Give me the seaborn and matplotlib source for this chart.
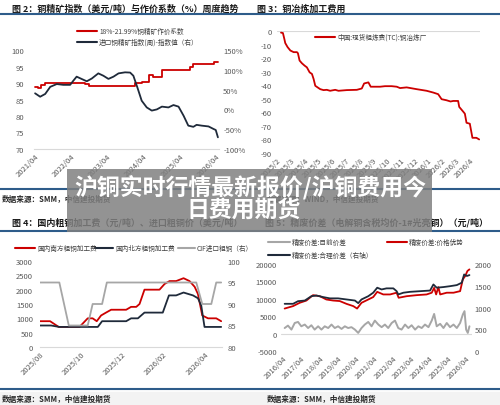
import matplotlib
matplotlib.use("Agg")
import matplotlib.pyplot as plt
import seaborn as sns
from matplotlib.lines import Line2D
from matplotlib.patches import Rectangle

sns.set_style("white")
plt.rcParams['font.family'] = ['Noto Sans CJK SC', 'DejaVu Sans']
plt.rcParams['axes.unicode_minus'] = False

RED = '#cc0000'
NAVY = '#1f2a3a'
GREY = '#a6a6a6'
BLUE = '#2e5c8a'
TXT = '#595959'
AXIS = '#d9d9d9'

# ---- 图2: 作价系数 (左) / 进口铜精矿指数 (右), x = 年份
coef_year = [2021.25, 2021.34, 2021.41, 2021.53, 2022.63, 2022.73, 2024.02, 2024.20,
             2024.39, 2024.52, 2024.76, 2025.54, 2025.63, 2026.19, 2026.32]
coef_val = [88.7, 88.4, 89.5, 90.0, 89.6, 89.0, 89.9, 90.4,
            92.4, 91.9, 94.0, 94.9, 95.9, 96.5, 96.5]
ore_year = [2021.25, 2021.39, 2021.53, 2021.67, 2021.85, 2022.03, 2022.22, 2022.31,
            2022.40, 2022.54, 2022.68, 2022.82, 2023.00, 2023.14, 2023.28, 2023.42,
            2023.56, 2023.74, 2023.88, 2023.97, 2024.08, 2024.20, 2024.34, 2024.48,
            2024.62, 2024.76, 2024.94, 2025.08, 2025.22, 2025.36, 2025.49, 2025.63,
            2025.72, 2025.86, 2026.05, 2026.19, 2026.25, 2026.31]
ore_idx = [40.6, 32, 39, 57, 64, 62, 62, 72.6,
           82.7, 76.8, 71, 78, 91, 85, 77, 82.7,
           91, 93.6, 93, 85, 55.7, 22, 5, -3,
           0, 7, 5, 11, 7, -16, -41, -44,
           -39, -41, -43, -49.5, -52, -70.5]
year_labels = ['2021/04', '2022/04', '2023/04', '2024/04', '2025/04', '2026/04']

# ---- 图3: 现货粗炼费TC, x = 自2025/2起的月数
tc_month = [0.29, 0.43, 0.53, 0.60, 0.77, 0.97, 1.21, 1.45, 1.52, 1.64, 1.81, 2.00,
            2.17, 2.37, 2.54, 2.66, 2.78, 2.95, 3.14, 3.38, 3.62, 3.86, 4.23, 4.47,
            5.07, 5.80, 6.16, 6.33, 6.64, 6.81, 7.49, 7.85, 8.33, 8.70, 8.94, 9.42,
            10.14, 10.87, 11.35, 11.71, 11.96, 12.32, 12.61, 12.80, 13.16, 13.24,
            13.53, 13.65, 13.77, 14.01, 14.20, 14.49, 14.69]
tc_val = [-1.2, -1.5, -5.7, -8.9, -11.9, -14.4, -15.6, -15.6, -16.4, -21.8, -23.8, -25.5,
          -26.8, -30.5, -31.7, -35.4, -40.4, -41.6, -42.9, -43.6, -43.4, -44.1, -43.4, -44.1,
          -43.6, -43.4, -42.4, -38.7, -37.9, -41.1, -41.1, -40.7, -40.7, -41.1, -42.1, -41.6,
          -42.9, -44.1, -45.4, -46.6, -50.3, -51.1, -52.0, -51.6, -51.6, -56.0,
          -59.5, -61.0, -67.7, -68.4, -78.8, -78.8, -80.0]
tc_labels = ['2025/2', '2025/3', '2025/4', '2025/5', '2025/6', '2025/7', '2025/8',
             '2025/9', '2025/10', '2025/11', '2025/12', '2026/1', '2026/2', '2026/3',
             '2026/4']

# ---- 图4: 粗铜加工费 (左) / CIF进口粗铜 (右), x = 自2025/08起的月数
south_month = [0, 0.49, 0.70, 0.91, 1.92, 2.32, 2.56, 2.76, 2.97, 3.21, 3.46, 4.19,
               4.43, 4.68, 4.84, 5.08, 5.81, 6.06, 6.30, 6.62, 6.98, 7.27, 7.52,
               7.68, 7.89, 8.17, 8.57, 8.81]
south_fee = [900, 900, 800, 700, 700, 1000, 1000, 900, 1100, 1200, 1300, 1300,
             1400, 1400, 1500, 2000, 2000, 2200, 2300, 2300, 2400, 2300, 2100,
             1850, 1100, 1000, 1000, 900]
north_month = [0, 0.54, 0.94, 2.81, 3.02, 4.19, 4.43, 4.76, 5.08, 5.97, 6.27, 6.62,
               6.98, 7.44, 7.68, 7.84, 8.00, 8.81]
north_fee = [750, 750, 700, 700, 900, 900, 1000, 1000, 1200, 1200, 1800, 1800,
             1900, 1800, 1700, 1450, 700, 700]
cif_month = [0, 0.94, 1.40, 2.32, 2.56, 3.02, 3.25, 7.60, 7.89, 8.33, 8.57, 8.81]
cif_price = [95, 95, 85, 85, 90, 90, 95, 95, 90, 90, 95, 95]
fee_labels = ['2025/08', '2025/10', '2025/12', '2026/02', '2026/04']

# ---- 图5: 精废价差, x = 年份
gap_year = [2016.34, 2016.52, 2016.71, 2016.89, 2017.07, 2017.25, 2017.44, 2017.62,
            2017.80, 2017.98, 2018.17, 2018.35, 2018.53, 2018.72, 2018.90, 2019.08,
            2019.26, 2019.45, 2019.63, 2019.81, 2019.99, 2020.18, 2020.36, 2020.54,
            2020.72, 2020.91, 2021.09, 2021.27, 2021.46, 2021.64, 2021.82, 2022.00,
            2022.19, 2022.37, 2022.55, 2022.73, 2022.92, 2023.10, 2023.28, 2023.47,
            2023.65, 2023.83, 2024.01, 2024.20, 2024.38, 2024.51, 2024.65, 2024.84,
            2025.02, 2025.20, 2025.38, 2025.57, 2025.75, 2025.93, 2026.08, 2026.17,
            2026.26, 2026.35, 2026.44]
gap_now = [1600, 2300, 1150, 3050, 3350, 2100, 2600, 1600,
           2400, 1150, 2100, 1150, 2100, 1600, 2600, 1600,
           2100, 1350, 2100, 1600, 1850, 1150, 200, 1600,
           2600, 3350, 2100, 3750, 2600, 1850, 2600, 1600,
           3050, 3750, 1600, 1150, 2600, 1600, 2400, 1150,
           2100, 1600, 2600, 1850, 3750, 5650, 2100, 2800,
           1600, 3050, 1850, 2600, 1600, 3050, 5500, 6450,
           1150, 200, 2100]
adv_year = [2016.34, 2016.80, 2017.16, 2017.53, 2017.89, 2018.26, 2018.62, 2018.99,
            2019.35, 2019.72, 2020.09, 2020.30, 2020.54, 2020.91, 2021.18, 2021.40,
            2021.73, 2022.10, 2022.46, 2022.57, 2023.01, 2023.56, 2024.10, 2024.38,
            2024.51, 2024.62, 2024.74, 2024.84, 2025.20, 2025.57, 2025.93, 2026.08,
            2026.21, 2026.33, 2026.44]
adv_val = [7200, 7900, 8850, 9500, 11050, 10750, 9800, 9500,
           9350, 8550, 7900, 7200, 8850, 9800, 10500, 12000,
           11250, 11250, 11750, 10300, 10750, 11050, 11250, 11750,
           13150, 11250, 13350, 11250, 11750, 11750, 12200, 15600,
           16550, 18000, 18450]
fair_year = [2016.34, 2016.80, 2017.07, 2017.44, 2017.80, 2018.08, 2018.44, 2018.81,
             2019.26, 2019.72, 2020.18, 2020.36, 2020.54, 2020.91, 2021.18, 2021.40,
             2021.64, 2021.91, 2022.28, 2022.46, 2022.55, 2022.83, 2023.19, 2023.74,
             2024.29, 2024.47, 2024.65, 2025.02, 2025.38, 2025.75, 2026.02, 2026.15,
             2026.30, 2026.44]
fair_val = [1085, 1085, 1145, 1160, 1260, 1275, 1240, 1210,
            1210, 1185, 1160, 1100, 1185, 1260, 1340, 1455,
            1415, 1440, 1440, 1375, 1300, 1340, 1360, 1375,
            1390, 1530, 1455, 1470, 1490, 1515, 1570, 1760,
            1725, 1745]
gap_labels = ['2016/04', '2017/04', '2018/04', '2019/04', '2020/04', '2021/04',
              '2022/04', '2023/04', '2024/04', '2025/04', '2026/04']

W, H = 500, 406
fig = plt.figure(figsize=(5, 4.06), dpi=100)


def fx(x):
    return x / W


def fy(y):
    return 1 - y / H


def box(l, t, r, b):
    return fig.add_axes([l / W, 1 - b / H, (r - l) / W, (b - t) / H])


def clean(ax, pad=3):
    for s in ax.spines.values():
        s.set_visible(False)
    ax.tick_params(length=0, labelsize=5.5, labelcolor=TXT, pad=pad)
    ax.set_xlabel('')
    ax.set_ylabel('')
    ax.set_facecolor('none')


def xlabels(ax, ticks, labels):
    ax.set_xticks(ticks)
    ax.set_xticklabels(labels, rotation=45, ha='right', rotation_mode='anchor')
    ax.tick_params(axis='x', pad=2)


def rule(y):
    fig.add_artist(Line2D([0, 1], [fy(y), fy(y)], color=BLUE, lw=1.5,
                          transform=fig.transFigure))


def leg(x0, x1, y, color, label):
    fig.add_artist(Line2D([fx(x0), fx(x1)], [fy(y), fy(y)], color=color, lw=1.5,
                          transform=fig.transFigure))
    fig.text(fx(x1 + 2), fy(y), label, fontsize=4.8, color='#404040', va='center')


def title(x, y, s):
    fig.text(fx(x), fy(y), s, fontsize=6.5, weight='bold', color='#1a1a1a', va='center')


def source(x, y, s):
    fig.text(fx(x), fy(y), s, fontsize=5.5, style='italic', weight='bold',
             color='#262626', va='center')


# bottom strip
fig.add_artist(Rectangle((0, 0), 1, fy(393), color='#f3f3f3', transform=fig.transFigure, zorder=0))

# 图2
ax2 = box(34, 51, 219, 150)
sns.lineplot(x=coef_year, y=coef_val, ax=ax2, color=RED, lw=1.3, drawstyle='steps-post', sort=False)
ax2r = ax2.twinx()
sns.lineplot(x=ore_year, y=ore_idx, ax=ax2r, color=NAVY, lw=1.3, sort=False)
ax2.set_xlim(2021.22, 2026.34)
ax2.set_ylim(70, 100)
ax2.set_yticks([70, 75, 80, 85, 90, 95, 100])
ax2r.set_ylim(-100, 150)
ax2r.set_yticks([-100, -50, 0, 50, 100, 150])
ax2r.set_yticklabels(['-100%', '-50%', '0%', '50%', '100%', '150%'])
clean(ax2, pad=7)
clean(ax2r, pad=3)
ax2.spines['bottom'].set_visible(True)
ax2.spines['bottom'].set_color(AXIS)
xlabels(ax2, [2021.25 + i for i in range(6)], year_labels)

# 图3
ax3 = box(277, 32, 480, 154)
sns.lineplot(x=tc_month, y=tc_val, ax=ax3, color=RED, lw=1.3, sort=False)
ax3.axhline(0, color=AXIS, lw=0.8, zorder=0)
ax3.set_xlim(0, 14.75)
ax3.set_ylim(-90, 0)
ax3.set_yticks(range(-90, 1, 10))
clean(ax3, pad=4)
xlabels(ax3, list(range(15)), tc_labels)

# 图4
ax4 = box(40, 262, 222, 348)
sns.lineplot(x=south_month, y=south_fee, ax=ax4, color=RED, lw=1.3, sort=False)
sns.lineplot(x=north_month, y=north_fee, ax=ax4, color=NAVY, lw=1.3, sort=False)
ax4r = ax4.twinx()
sns.lineplot(x=cif_month, y=cif_price, ax=ax4r, color=GREY, lw=1.3, sort=False)
ax4.set_xlim(0, 8.85)
ax4.set_ylim(0, 3000)
ax4.set_yticks(range(0, 3001, 500))
ax4r.set_ylim(80, 100)
ax4r.set_yticks([80, 85, 90, 95, 100])
clean(ax4, pad=5)
clean(ax4r, pad=4)
ax4.spines['bottom'].set_visible(True)
ax4.spines['bottom'].set_color(AXIS)
xlabels(ax4, [0, 2, 4, 6, 8], fee_labels)

# 图5
ax5 = box(281, 265, 472, 352)
sns.lineplot(x=gap_year, y=gap_now, ax=ax5, color=GREY, lw=1.4, sort=False)
sns.lineplot(x=adv_year, y=adv_val, ax=ax5, color=RED, lw=1.3, sort=False)
ax5.axhline(0, color=AXIS, lw=0.8, zorder=0)
ax5r = ax5.twinx()
sns.lineplot(x=fair_year, y=fair_val, ax=ax5r, color=NAVY, lw=1.3, sort=False)
ax5.set_xlim(2016.14, 2026.58)
ax5.set_ylim(-5000, 20000)
ax5.set_yticks(range(-5000, 20001, 5000))
ax5r.set_ylim(0, 2000)
ax5r.set_yticks([0, 500, 1000, 1500, 2000])
clean(ax5, pad=3)
clean(ax5r, pad=2)
xlabels(ax5, [2016.25 + i for i in range(11)], gap_labels)

# titles, rules, sources
title(12, 9, '图 2：铜精矿指数（美元/吨）与作价系数（%）周度趋势')
title(257, 9, '图 3：铜冶炼加工费用')
rule(15)
rule(190)
source(2, 199, '数据来源：SMM，中信建投期货')
source(267, 199, '数据来源：WIND，中信建投期货')
title(12, 223, '图 4：国内粗铜加工费（元/吨）、进口粗铜价（美元/吨）')
title(265, 223, '图 5：精废价差（电解铜含税均价-1#光亮铜）（元/吨）')
rule(232)
rule(390)
source(2, 399, '数据来源：SMM，中信建投期货')
source(267, 399, '数据来源：SMM，中信建投期货')

# legends
leg(77, 97, 32, RED, '18%-21.99%铜精矿作价系数')
leg(77, 97, 43, NAVY, '进口铜精矿指数(周)-指数值（右）')
leg(315, 335, 38, RED, '中国:现货粗炼费(TC):铜冶炼厂')
leg(15, 35, 249, RED, '国内南方粗铜加工费')
leg(95, 113, 249, NAVY, '国内北方粗铜加工费')
leg(178, 195, 249, GREY, 'CIF进口粗铜（右）')
leg(268, 290, 243, GREY, '精废价差:目前价差')
leg(387, 407, 243, RED, '精废价差:价格优势')
leg(268, 290, 256, NAVY, '精废价差:合理价差（右轴）')

# overlay banner
fig.add_artist(Rectangle((fx(67), fy(233)), fx(432) - fx(67), fy(170) - fy(233),
                         facecolor=(0.5, 0.5, 0.5), alpha=0.85, edgecolor='none',
                         transform=fig.transFigure, zorder=10))
fig.text(fx(250), fy(187), '沪铜实时行情最新报价/沪铜费用今', fontsize=16.5, weight='bold',
         color='white', ha='center', va='center', zorder=11)
fig.text(fx(244), fy(211), '日费用期货', fontsize=16.5, weight='bold',
         color='white', ha='center', va='center', zorder=11)

fig.savefig('out.png', dpi=100)
